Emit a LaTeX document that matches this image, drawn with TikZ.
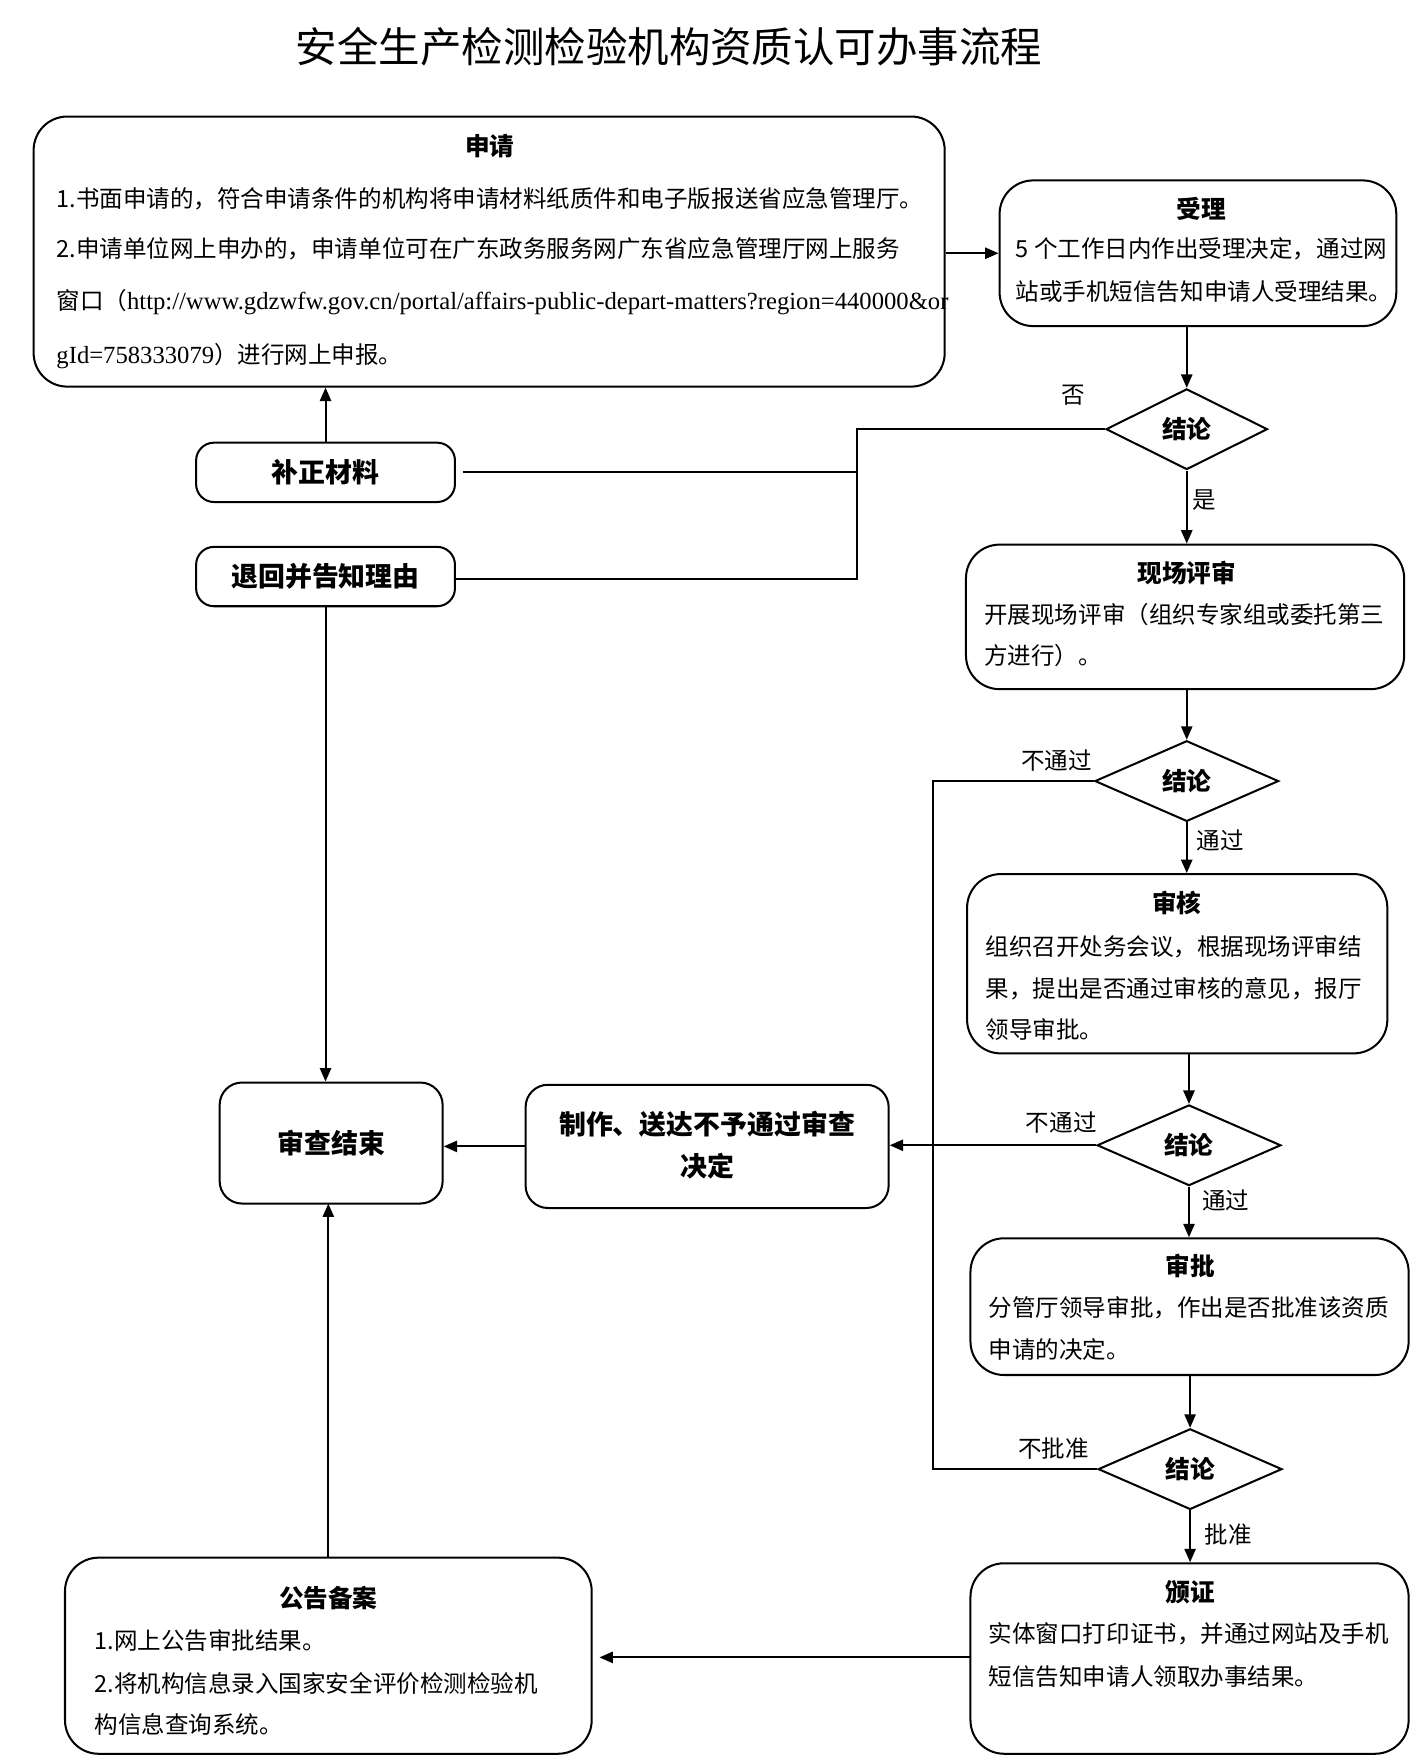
\documentclass[tikz,border=0pt]{standalone}
\usepackage{fontspec}
\setmainfont{Noto Sans CJK SC}
\newfontfamily\lat{Liberation Serif}
\usetikzlibrary{shapes.geometric,arrows.meta}
\newcommand\bx[6][15pt]{\node[box,rounded corners=#1,minimum width={(#5-#3)*0.5pt},minimum height={(#6-#4)*0.5pt}] (#2) at ({(#3+#5)/2},{(#4+#6)/2}) {};}
\begin{document}
\begin{tikzpicture}[x=0.5pt,y=-0.5pt,
  box/.style={draw,line width=0.9pt,inner sep=0pt},
  dia/.style={draw,line width=0.9pt,diamond,inner sep=0pt,minimum width=72pt,minimum height=36pt,font=\fontsize{11}{13}\selectfont\bfseries},
  tl/.style={font=\fontsize{11}{13}\selectfont\bfseries,inner sep=0pt},
  tx/.style={anchor=west,font=\fontsize{10.5}{12}\selectfont,inner sep=0pt},
  lb/.style={font=\fontsize{10.5}{12}\selectfont,inner sep=0pt},
  arr/.style={line width=0.9pt,-{Triangle[length=6pt,width=5pt]}},
  ln/.style={line width=0.9pt}]
\useasboundingbox (0,0) rectangle (1260,1567);
\node[font=\fontsize{18.5}{22}\selectfont,inner sep=0pt] (title) at (597,42) {安全生产检测检验机构资质认可办事流程};
% 申请
\bx{sq}{30}{104}{843}{345}
\node[tl] (sqt) at (437,130) {申请};
\node[tx] (sq1) at (50,177) {1.书面申请的，符合申请条件的机构将申请材料纸质件和电子版报送省应急管理厅。};
\node[tx] (sq2) at (50,222) {2.申请单位网上申办的，申请单位可在广东政务服务网广东省应急管理厅网上服务};
\node[tx] (sq3) at (50,270) {窗口（{\lat\fontsize{11}{12}\selectfont http://www.gdzwfw.gov.cn/portal/affairs-public-depart-matters?region=440000\&or}};
\node[tx] (sq4) at (50,318) {{\lat\fontsize{11}{12}\selectfont gId=758333079}）进行网上申报。};
% 受理
\bx{sl}{892}{161}{1246}{291}
\node[tl] (slt) at (1072,186) {受理};
\node[tx] (sl1) at (906,222) {5 个工作日内作出受理决定，通过网};
\node[tx] (sl2) at (906,260) {站或手机短信告知申请人受理结果。};
\draw[arr] (sq.east |- sl.west) -- (sl.west);
% diamond 1
\node[dia] (d1) at (1059,383) {结论};
\draw[arr] (sl.south -| d1.north) -- (d1.north);
\node[lb] (no1) at (958,353) {否};
\bx[8pt]{bz}{175}{395}{406}{448}
\node[tl,font=\fontsize{12}{14}\selectfont\bfseries] (bzt) at (bz) {补正材料};
\bx[8pt]{th}{175}{488}{406}{541}
\node[tl,font=\fontsize{12}{14}\selectfont\bfseries] (tht) at (th) {退回并告知理由};
\coordinate (v1) at (765,383);
\coordinate (v2) at (765,517);
\draw[ln] (d1.west) -- (v1) -- (v2) -- (th.east |- v2);
\draw[ln] ([xshift=3pt]bz.east) -- (bz.east -| v1);
\draw[arr] (bz.north) -- (bz.north |- sq.south);
% 现场评审
\bx{xc}{862}{486}{1253}{615}
\node[lb] (yes1) at (1075,446) {是};
\draw[arr] (d1.south) -- (d1.south |- xc.north);
\node[tl] (xct) at (1059,511) {现场评审};
\node[tx] (xc1) at (878,548) {开展现场评审（组织专家组或委托第三};
\node[tx] (xc2) at (878,585) {方进行）。};
\node[dia,minimum width=82pt] (d2) at (1059,697) {结论};
\draw[arr] (xc.south -| d2.north) -- (d2.north);
\node[lb] (np2) at (943,679) {不通过};
\node[lb] (p2) at (1089,750) {通过};
% 审核
\bx{sh}{863}{780}{1238}{940}
\draw[arr] (d2.south) -- (d2.south |- sh.north);
\node[tl] (sht) at (1050,806) {审核};
\node[tx] (sh1) at (879,845) {组织召开处务会议，根据现场评审结};
\node[tx] (sh2) at (879,882) {果，提出是否通过审核的意见，报厅};
\node[tx] (sh3) at (879,919) {领导审批。};
\node[dia,minimum width=82pt] (d3) at (1061,1022) {结论};
\draw[arr] (d3.north |- sh.south) -- (d3.north);
\node[lb] (np3) at (947,1002) {不通过};
\node[lb] (p3) at (1094,1071) {通过};
\bx[10pt]{zz}{469}{968}{793}{1078}
\node[tl,font=\fontsize{12}{14}\selectfont\bfseries] (zz1) at (631,1003) {制作、送达不予通过审查};
\node[tl,font=\fontsize{12}{14}\selectfont\bfseries] (zz2) at (631,1041) {决定};
\draw[arr] (d3.west) -- (zz.east |- d3.west);
\bx[10pt]{js}{196}{966}{395}{1074}
\node[tl,font=\fontsize{12}{14}\selectfont\bfseries] (jst) at (js) {审查结束};
\draw[arr] (zz.west) -- (js.east |- zz.west);
\draw[arr] (th.south) -- (th.south |- js.north);
% 审批
\bx{sp}{866}{1105}{1257}{1227}
\draw[arr] (d3.south) -- (d3.south |- sp.north);
\node[tl] (spt) at (1062,1130) {审批};
\node[tx] (sp1) at (882,1167) {分管厅领导审批，作出是否批准该资质};
\node[tx] (sp2) at (882,1204) {申请的决定。};
\node[dia,minimum width=82pt] (d4) at (1062,1311) {结论};
\draw[arr] (d4.north |- sp.south) -- (d4.north);
\node[lb] (np4) at (940,1293) {不批准};
\node[lb] (p4) at (1096,1369) {批准};
\coordinate (v3) at (833,697);
\coordinate (v4) at (833,1311);
\draw[ln] (d2.west) -- (v3) -- (v4) -- (d4.west);
% 颁证
\bx{bzh}{866}{1395}{1257}{1565}
\draw[arr] (d4.south) -- (d4.south |- bzh.north);
\node[tl] (bzht) at (1062,1421) {颁证};
\node[tx] (bzh1) at (882,1458) {实体窗口打印证书，并通过网站及手机};
\node[tx] (bzh2) at (882,1496) {短信告知申请人领取办事结果。};
% 公告备案
\bx{gg}{58}{1390}{528}{1565}
\node[tl] (ggt) at (293,1426) {公告备案};
\node[tx] (gg1) at (84,1464) {1.网上公告审批结果。};
\node[tx] (gg2) at (84,1502) {2.将机构信息录入国家安全评价检测检验机};
\node[tx] (gg3) at (84,1539) {构信息查询系统。};
\coordinate (h1) at (866,1479);
\draw[arr] (h1) -- ([xshift=3pt]gg.east |- h1);
\draw[arr] (293,1390) -- (293,1074);
\end{tikzpicture}
\end{document}
